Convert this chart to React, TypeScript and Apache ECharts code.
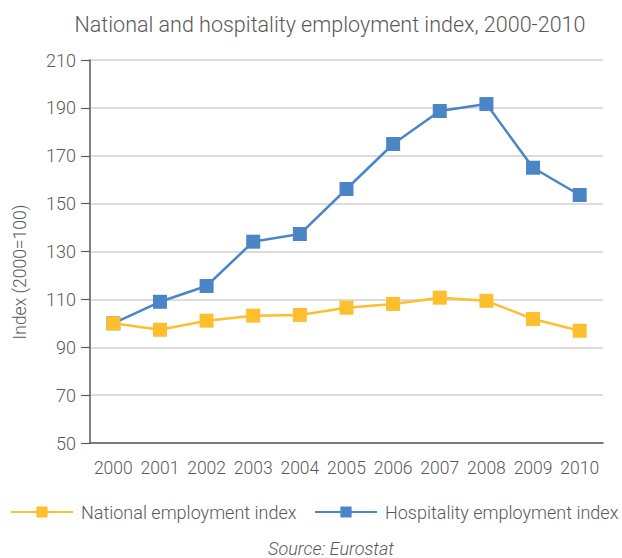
import React, { useEffect, useRef } from "react";
import * as echarts from "echarts";

const years = ["2000", "2001", "2002", "2003", "2004", "2005", "2006", "2007", "2008", "2009", "2010"];
const nationalIndex = [100, 97.3, 101.1, 103.2, 103.5, 106.5, 108.1, 110.7, 109.4, 101.8, 96.9];
const hospitalityIndex = [100, 109, 115.6, 134.1, 137.3, 156.1, 174.9, 188.7, 191.6, 165, 153.6];

const FONT = "Roboto";
const TEXT = "#595959";

const legendBase = {
  top: 503,
  padding: 0,
  itemWidth: 62,
  itemHeight: 14,
  textStyle: { fontFamily: FONT, fontWeight: 300, fontSize: 18, color: TEXT, padding: [0, 0, 0, 3] },
};

export default function App() {
  const ref = useRef<HTMLDivElement>(null);
  useEffect(() => {
    if (!ref.current) return;
    const chart = echarts.init(ref.current, null, { renderer: "svg" });
    chart.setOption({
      animation: false,
      backgroundColor: "#ffffff",
      textStyle: { fontFamily: FONT, fontWeight: 300 },
      title: {
        text: "National and hospitality employment index, 2000-2010",
        left: 325,
        textAlign: "center",
        top: 8,
        textStyle: { fontFamily: FONT, fontWeight: 300, fontSize: 21.5, color: TEXT },
      },
      grid: { left: 90, right: 19, top: 60, bottom: 115, containLabel: false },
      legend: [
        { ...legendBase, left: 10, data: ["National employment index"] },
        { ...legendBase, left: 314, data: ["Hospitality employment index"] },
      ],
      xAxis: {
        type: "category",
        data: years,
        boundaryGap: true,
        axisLine: { lineStyle: { color: "#595959", width: 1.5 } },
        axisTick: { alignWithLabel: true, length: 9, lineStyle: { color: "#595959", width: 1.2 } },
        axisLabel: { interval: 0, fontFamily: FONT, fontWeight: 300, fontSize: 17.5, color: TEXT, margin: 16 },
      },
      yAxis: {
        type: "value",
        min: 50,
        max: 210,
        interval: 20,
        axisLine: { show: true, lineStyle: { color: "#595959", width: 1.5 } },
        axisTick: { show: true, length: 9, lineStyle: { color: "#595959", width: 1.2 } },
        axisLabel: { fontFamily: FONT, fontWeight: 300, fontSize: 18, color: TEXT, margin: 14 },
        splitLine: { lineStyle: { color: "#d0d0d0", width: 1.5 } },
      },
      graphic: [
        {
          type: "text",
          x: 20,
          y: 272,
          rotation: Math.PI / 2,
          style: {
            text: "Index (2000=100)",
            fontFamily: FONT,
            fontWeight: 300,
            fontSize: 17.5,
            fill: TEXT,
            align: "center",
            verticalAlign: "middle",
          },
        },
        {
          type: "text",
          x: 331,
          y: 548,
          style: {
            text: "Source: Eurostat",
            fontFamily: FONT,
            fontWeight: 300,
            fontStyle: "italic",
            fontSize: 18,
            fill: TEXT,
            align: "center",
            verticalAlign: "middle",
          },
        },
      ],
      series: [
        {
          name: "National employment index",
          type: "line",
          data: nationalIndex,
          symbol: "rect",
          symbolSize: 14,
          color: "#fdbf2d",
          lineStyle: { width: 2.5, color: "#fdbf2d" },
          itemStyle: { color: "#fdbf2d" },
          z: 3,
        },
        {
          name: "Hospitality employment index",
          type: "line",
          data: hospitalityIndex,
          symbol: "rect",
          symbolSize: 14,
          color: "#4a86c6",
          lineStyle: { width: 2.5, color: "#4a86c6" },
          itemStyle: { color: "#4a86c6" },
          z: 2,
        },
      ],
    });
    return () => chart.dispose();
  }, []);
  return <div ref={ref} style={{ width: 622, height: 558, position: "absolute", left: 0, top: 0 }} />;
}
